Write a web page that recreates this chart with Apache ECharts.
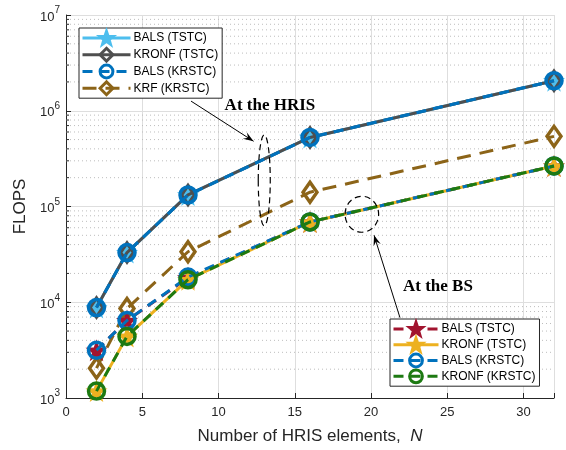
<!DOCTYPE html>
<html>
<head>
<meta charset="utf-8">
<style>html,body{margin:0;padding:0;background:#fff}#c{width:566px;height:450px}</style>
<script src="https://cdn.jsdelivr.net/npm/echarts@6/dist/echarts.min.js"></script>
</head>
<body>
<div id="c"></div>
<script>
// ---- data ----
var N = [2, 4, 8, 16, 32];
var hrisBalsTSTC  = [8800, 33000, 132000, 526000, 2060000];
var hrisKronfTSTC = [8800, 33000, 132000, 526000, 2060000];
var hrisBalsKRSTC = [8800, 33000, 132000, 526000, 2060000];
var hrisKrfKRSTC  = [2050, 8600, 33700, 141000, 540000];
var bsBalsTSTC    = [3150, 6450, 18000, 69000, 265000];
var bsKronfTSTC   = [1180, 4400, 17200, 69000, 265000];
var bsBalsKRSTC   = [3150, 6450, 18300, 69000, 265000];
var bsKronfKRSTC  = [1180, 4400, 17200, 69000, 265000];
var xTicks = [0, 5, 10, 15, 20, 25, 30];
var yMinor = [];
for (var e = 3; e < 7; e++) for (var m = 2; m <= 9; m++) yMinor.push(m * Math.pow(10, e));

var legend1 = ['BALS (TSTC)', 'KRONF (TSTC)', 'BALS (KRSTC)', 'KRF (KRSTC)'];
var legend2 = ['BS: BALS (TSTC)', 'BS: KRONF (TSTC)', 'BS: BALS (KRSTC)', 'BS: KRONF (KRSTC)'];

var STAR = 'path://M0,-10 L2.35,-3.24 L9.51,-3.09 L3.8,1.24 L5.88,8.09 L0,4 L-5.88,8.09 L-3.8,1.24 L-9.51,-3.09 L-2.35,-3.24 Z';
var C = {lblue:'#4DBEEE', gray:'#4F4F4F', blue:'#0072BD', brown:'#8C6418', red:'#A2142F', yellow:'#EDB120', green:'#1D7A12'};

function pairs(v){ return N.map(function(x,i){ return [x, v[i]]; }); }
function mk(name, vals, color, dash, symbol, size, hollow, z){
  return {
    type:'line', name:name, data:pairs(vals), z:z,
    symbol:symbol, symbolSize:size,
    lineStyle:{color:color, width:3, type: dash || 'solid'},
    itemStyle: hollow ? {color:'#ffffff00', borderColor:color, borderWidth:3.5} : {color:color, borderColor:color, borderWidth:0},
    emphasis:{disabled:true}, animation:false
  };
}

var series = [
  mk(legend1[0], hrisBalsTSTC, C.lblue, null, STAR, 22, false, 2),
  mk(legend1[1], hrisKronfTSTC, C.gray, null, 'diamond', [13,19], true, 3),
  mk(legend1[2], hrisBalsKRSTC, C.blue, [10,7], 'circle', 16, true, 4),
  mk(legend1[3], hrisKrfKRSTC, C.brown, [14,9], 'diamond', [14,20], true, 5),
  mk(legend2[0], bsBalsTSTC, C.red, [10,7], STAR, 22, false, 6),
  mk(legend2[1], bsKronfTSTC, C.yellow, null, STAR, 22, false, 7),
  mk(legend2[2], bsBalsKRSTC, C.blue, [10,7], 'circle', 16, true, 8),
  mk(legend2[3], bsKronfKRSTC, C.green, [10,7], 'circle', 16, true, 9),
  {
    type:'custom', name:'minor', z:1, silent:true, animation:false,
    data: yMinor.map(function(v){ return [0, v]; }),
    renderItem: function(params, api){
      var v = api.value(1);
      var p0 = api.coord([0, v]), p1 = api.coord([32, v]);
      return {type:'group', children:[
        {type:'line', shape:{x1:p0[0], y1:p0[1], x2:p1[0], y2:p1[1]},
         style:{stroke:'#bdbdbd', lineWidth:1, lineDash:[1,3]}},
        {type:'line', shape:{x1:p0[0], y1:p0[1], x2:p0[0]+3, y2:p0[1]},
         style:{stroke:'#262626', lineWidth:1}}
      ]};
    }
  }
];

var chart = echarts.init(document.getElementById('c'), null, {renderer:'canvas'});
var legendCommon = {
  orient:'vertical', itemHeight:16, itemSymbolKeepAspect:false,
  backgroundColor:'#fff', borderColor:'#262626', borderWidth:1,
  textStyle:{fontFamily:'Liberation Sans, Arial', fontSize:12, color:'#000', padding:[0,0,0,-2]},
  lineStyle:{width:3}, itemStyle:{borderWidth:3},
  selectedMode:false, inactiveColor:'#000'
};
chart.setOption({
  animation:false,
  grid:{left:66, right:12, top:15, bottom:50},
  xAxis:{
    type:'value', min:0, max:32, interval:5,
    axisLine:{show:true, lineStyle:{color:'#262626'}},
    axisTick:{show:true, inside:true, length:5, lineStyle:{color:'#262626'}},
    axisLabel:{fontFamily:'Liberation Sans, Arial', fontSize:13, color:'#262626', margin:8,
      formatter:function(v){ return xTicks.indexOf(v) >= 0 ? String(v) : ''; }},
    splitLine:{show:true, lineStyle:{color:'#dedede', width:1}},
    name:'{n|Number of HRIS elements,  }{i|N}', nameLocation:'middle', nameGap:30,
    nameTextStyle:{rich:{
      n:{fontFamily:'Liberation Sans, Arial', fontSize:17, color:'#262626'},
      i:{fontFamily:'Liberation Sans, Arial', fontSize:17, color:'#262626', fontStyle:'italic'}}}
  },
  yAxis:{
    type:'log', logBase:10, min:1000, max:10000000,
    axisLine:{show:true, lineStyle:{color:'#262626'}},
    axisTick:{show:true, inside:true, length:5, lineStyle:{color:'#262626'}},
    minorTick:{show:false}, minorSplitLine:{show:false},
    axisLabel:{color:'#262626', margin:6,
      formatter:function(v){ return '{b|10}{s|' + Math.round(Math.log10(v)) + '}'; },
      rich:{
        b:{fontFamily:'Liberation Sans, Arial', fontSize:13, color:'#262626', padding:[4,0,0,0]},
        s:{fontFamily:'Liberation Sans, Arial', fontSize:10, color:'#262626', padding:[0,0,9,0]}
      }},
    splitLine:{show:true, lineStyle:{color:'#dedede', width:1}},
    name:'FLOPS', nameLocation:'middle', nameGap:37,
    nameTextStyle:{fontFamily:'Liberation Sans, Arial', fontSize:17, color:'#262626'}
  },
  legend:[
    Object.assign({}, legendCommon, {left:79, top:28, itemWidth:48, itemGap:1, padding:[2,4,2,2], data:legend1}),
    Object.assign({}, legendCommon, {left:390, top:319, itemWidth:45, itemGap:0, padding:[2,4,2,2], data:legend2,
      formatter:function(n){ return n.replace('BS: ', ''); }})
  ],
  series:series
});

// annotations anchored to data coordinates
function px(x, y){ return chart.convertToPixel({gridIndex:0}, [x, y]); }
var hC = px(13.0, 195000), hT = px(13.0, 560000), hB = px(13.0, 63000);
var bC = px(19.4, 83000), bR = px(20.5, 83000);
var a1s = px(8.2, 1260000), a1e = px(12.3, 480000);
var a2s = px(21.9, 6900), a2e = px(20.2, 50000);
var t1 = px(10.4, 1130000), t2 = px(22.1, 14500);
var dashStyle = {stroke:'#000', lineWidth:1.2, lineDash:[6,4], fill:null};
function arrowHead(s, e){
  var ang = Math.atan2(e[1]-s[1], e[0]-s[0]), L = 11, W = 0.35;
  return {type:'polygon', shape:{points:[
    [e[0], e[1]],
    [e[0]-L*Math.cos(ang-W), e[1]-L*Math.sin(ang-W)],
    [e[0]-L*0.6*Math.cos(ang), e[1]-L*0.6*Math.sin(ang)],
    [e[0]-L*Math.cos(ang+W), e[1]-L*Math.sin(ang+W)]]},
    style:{fill:'#000'}, z:100};
}
chart.setOption({graphic:[
  {type:'ellipse', shape:{cx:hC[0], cy:(hT[1]+hB[1])/2, rx:6, ry:(hB[1]-hT[1])/2}, style:dashStyle, z:100},
  {type:'ellipse', shape:{cx:bC[0], cy:bC[1], rx:bR[0]-bC[0], ry:18}, style:dashStyle, z:100},
  {type:'line', shape:{x1:a1s[0], y1:a1s[1], x2:a1e[0], y2:a1e[1]}, style:{stroke:'#000', lineWidth:1}, z:100},
  arrowHead(a1s, a1e),
  {type:'line', shape:{x1:a2s[0], y1:a2s[1], x2:a2e[0], y2:a2e[1]}, style:{stroke:'#000', lineWidth:1}, z:100},
  arrowHead(a2s, a2e),
  {type:'text', x:t1[0], y:t1[1], z:100, style:{text:'At the HRIS', font:'bold 17px "Liberation Serif", "Times New Roman", serif', fill:'#000', verticalAlign:'middle'}},
  {type:'text', x:t2[0], y:t2[1], z:100, style:{text:'At the BS', font:'bold 17px "Liberation Serif", "Times New Roman", serif', fill:'#000', verticalAlign:'middle'}}
]});
</script>
</body>
</html>
